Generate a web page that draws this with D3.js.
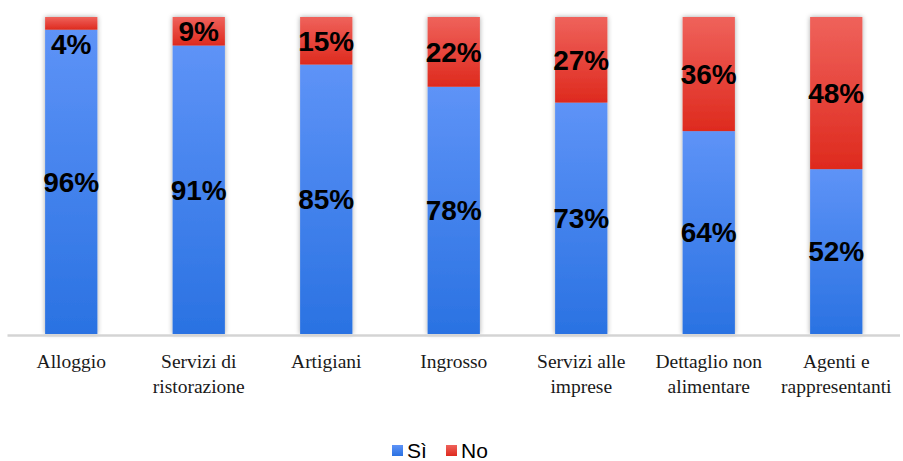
<!DOCTYPE html>
<html>
<head>
<meta charset="utf-8">
<script src="https://cdn.jsdelivr.net/npm/d3@7"></script>
<style>
  body { margin: 0; background: #fff; }
  svg { display: block; }
</style>
</head>
<body>
<svg id="chart" width="903" height="461"></svg>
<script>
// categories and the two stacked series (percent)
var categories = ['Alloggio', 'Servizi di ristorazione', 'Artigiani', 'Ingrosso',
                  'Servizi alle imprese', 'Dettaglio non alimentare', 'Agenti e rappresentanti'];
var labelLines = [['Alloggio'], ['Servizi di', 'ristorazione'], ['Artigiani'], ['Ingrosso'],
                  ['Servizi alle', 'imprese'], ['Dettaglio non', 'alimentare'], ['Agenti e', 'rappresentanti']];
var siValues = [96, 91, 85, 78, 73, 64, 52];
var noValues = [4, 9, 15, 22, 27, 36, 48];
var seriesNames = ['Sì', 'No'];

var svg = d3.select('#chart');
var plotLeft = 7.5, plotRight = 900, plotTop = 17, plotBottom = 334;

var x = d3.scaleBand().domain(categories).range([plotLeft, plotRight]).paddingInner(0.59).paddingOuter(0.295);
var y = d3.scaleLinear().domain([0, 100]).range([plotBottom, plotTop]);

// gradients + shadow
var defs = svg.append('defs');
function grad(id, c1, c2) {
    var g = defs.append('linearGradient').attr('id', id)
        .attr('x1', 0).attr('y1', 0).attr('x2', 0).attr('y2', 1);
    g.append('stop').attr('offset', '0%').attr('stop-color', c1);
    g.append('stop').attr('offset', '100%').attr('stop-color', c2);
}
grad('gBlue', '#5e93f7', '#2a72e2');
grad('gRed', '#ef625b', '#de2a1e');
var f = defs.append('filter').attr('id', 'shadow')
    .attr('x', '-30%').attr('y', '-5%').attr('width', '160%').attr('height', '110%');
f.append('feDropShadow').attr('dx', 0).attr('dy', 0).attr('stdDeviation', 2.5)
    .attr('flood-color', '#000').attr('flood-opacity', 0.35);

var data = categories.map(function(c, i) {
    return { cat: c, si: siValues[i], no: noValues[i] };
});

var bars = svg.append('g').selectAll('g')
    .data(data).enter().append('g')
    .attr('filter', 'url(#shadow)');

bars.append('rect')
    .attr('x', function(d) { return x(d.cat); })
    .attr('width', x.bandwidth())
    .attr('y', function(d) { return y(d.si); })
    .attr('height', function(d) { return y(0) - y(d.si); })
    .attr('fill', 'url(#gBlue)');

bars.append('rect')
    .attr('x', function(d) { return x(d.cat); })
    .attr('width', x.bandwidth())
    .attr('y', function(d) { return y(d.si + d.no); })
    .attr('height', function(d) { return y(d.si) - y(d.si + d.no); })
    .attr('fill', 'url(#gRed)');

// axis line
svg.append('line')
    .attr('x1', plotLeft).attr('x2', plotRight)
    .attr('y1', plotBottom + 1.5).attr('y2', plotBottom + 1.5)
    .attr('stroke', '#d4d4d4').attr('stroke-width', 2.5);

// value labels
var labels = svg.append('g')
    .attr('font-family', 'Liberation Sans, Arial, sans-serif')
    .attr('font-weight', 'bold').attr('font-size', 28)
    .attr('text-anchor', 'middle').attr('fill', '#000');

labels.selectAll('text.si').data(data).enter().append('text')
    .attr('class', 'si')
    .attr('x', function(d) { return x(d.cat) + x.bandwidth() / 2; })
    .attr('y', function(d) { return (y(0) + y(d.si)) / 2; })
    .attr('dy', '0.35em')
    .text(function(d) { return d.si + '%'; });

labels.selectAll('text.no').data(data).enter().append('text')
    .attr('class', 'no')
    .attr('x', function(d) { return x(d.cat) + x.bandwidth() / 2; })
    .attr('y', function(d) {
        var h = y(d.si) - y(d.si + d.no);
        if (h < 20) return y(d.si) + 15;
        return (y(d.si) + y(d.si + d.no)) / 2;
    })
    .attr('dy', '0.35em')
    .text(function(d) { return d.no + '%'; });

// category labels
var cat = svg.append('g')
    .attr('font-family', 'Liberation Serif, Times New Roman, serif')
    .attr('font-size', 19.5).attr('text-anchor', 'middle').attr('fill', '#1a1a1a');
cat.selectAll('text').data(data).enter().append('text')
    .attr('x', function(d) { return x(d.cat) + x.bandwidth() / 2; })
    .attr('y', 368)
    .each(function(d, i) {
        var t = d3.select(this);
        labelLines[i].forEach(function(line, j) {
            t.append('tspan').attr('x', x(d.cat) + x.bandwidth() / 2)
                .attr('dy', j === 0 ? 0 : 25).text(line);
        });
    });

// legend
var legend = svg.append('g')
    .attr('font-family', 'Liberation Sans, Arial, sans-serif').attr('font-size', 21);
var legendX = [392, 446];
seriesNames.forEach(function(name, i) {
    legend.append('rect').attr('x', legendX[i]).attr('y', 445)
        .attr('width', 11).attr('height', 11)
        .attr('fill', i === 0 ? 'url(#gBlue)' : 'url(#gRed)');
    legend.append('text').attr('x', legendX[i] + 15).attr('y', 458)
        .attr('fill', '#000').text(name);
});
</script>
</body>
</html>
